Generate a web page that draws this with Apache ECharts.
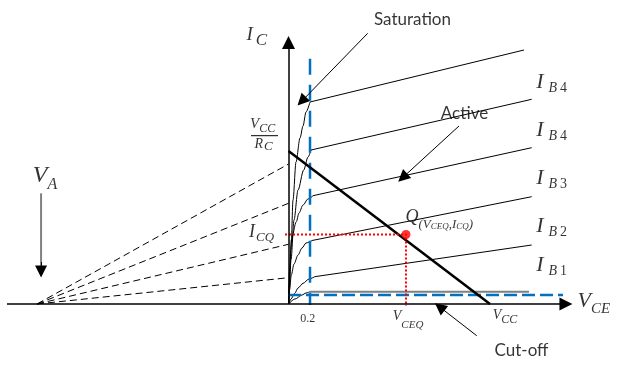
<!DOCTYPE html>
<html><head><meta charset="utf-8">
<script src="https://cdn.jsdelivr.net/npm/echarts@6/dist/echarts.min.js"></script>
<style>html,body{margin:0;padding:0;background:#fff}#c{width:627px;height:366px}</style>
</head><body><div id="c"></div>
<script>
// V_CE (volts) , I_C (mA)
const curveTop = [[0,0],[0.0093,1.2],[0.0233,2.7],[0.0419,5.2],[0.0698,7.1],[0.107,8.3],[0.1349,8.9],[0.1628,9.6],[0.2,10.1],[2.1907,12.7]];
const curveIB4 = [[0,0],[0.0047,0.45],[0.0233,2.2],[0.0512,4.2],[0.0884,5.7],[0.1414,6.7],[0.1814,7.35],[0.2093,7.7],[2.2623,10.235]];
const curveIB3 = [[0,0],[0.0093,1.7],[0.026,3.2],[0.0726,4.115],[0.0977,4.55],[0.1349,4.95],[0.1814,5.25],[0.2279,5.415],[2.2623,7.815]];
const curveIB2 = [[0,0],[0.0093,0.7],[0.026,1.45],[0.0512,2.0],[0.0884,2.45],[0.1256,2.8],[0.1628,3.05],[0.2186,3.175],[2.2623,5.365]];
const curveIB1 = [[0,0],[0.0233,0.25],[0.0577,0.535],[0.0884,0.8],[0.1349,1.035],[0.1907,1.25],[0.2437,1.365],[2.2623,2.95]];
const curveIB0knee = [[0,0],[0.0605,0.25],[0.1256,0.45],[0.1628,0.55],[0.2,0.615]];
const curveIB0flat = [[0.2,0.615],[2.2372,0.615]];
const VA = -2.3395;                       // Early voltage (convergence point)
const earlyIntercepts = [7.0, 5.035, 2.985, 1.315];
const VCC = 1.874, ICSAT = 7.65;          // load line intercepts
const VCEQ = 1.093, ICQ = 3.475;          // Q point
const VSAT = 0.2, VSAT_TOP = 12.265;      // saturation boundary
const ICUT = 0.45, VCUT_END = 2.5535;     // cut-off boundary
const xAxisLine = [[-2.619,0],[2.581,0]];
const yAxisLine = [[0,0],[0,13.075]];
const annotationArrows = [
  [[0.7367,13.535],[0.1228,10.14]],   // Saturation
  [[1.586,8.9],[1.062,6.32]],         // Active
  [[1.751,-1.585],[1.4065,-0.15]],    // Cut-off
  [[-2.302,2.1],[-2.302,1.625]]       // V_A head
];
const vaShaft = [[-2.302,5.535],[-2.302,1.8]];
const fractionBar = [[-0.3488,8.415],[-0.0977,8.415]];
const labels = [
  {t:'{ic|I}{icS|C}', p:[-0.386,13.425], a:'left'},
  {t:'{vcc|V}{vccS|CC}', p:[-0.3535,8.95], a:'left'},
  {t:'{rc|R}{rcS|C}', p:[-0.3116,7.975], a:'left'},
  {t:'{icq|I}{icqS|CQ}', p:[-0.3628,3.575], a:'left'},
  {t:'{q|Q}{qp|(V}{qs|CEQ}{qp|,I}{qs|CQ}{qp|)}', p:[1.093,4.325], a:'left'},
  {t:'{vce|V}{vceS|CE}', p:[2.693,0.1], a:'left'},
  {t:'{num|0.2}', p:[0.1842,-0.75], a:'center'},
  {t:'{vq|V}{vqS|CEQ}', p:[0.975,-0.66], a:'left'},
  {t:'{vb|V}{vbS|CC}', p:[1.905,-0.615], a:'left'},
  {t:'{va|V}{vaS|A}', p:[-2.374,6.4], a:'left'},
  {t:'{ib|I}{ibS|B}{ibN|4}', p:[2.309,11.075], a:'left'},
  {t:'{ib|I}{ibS|B}{ibN|4}', p:[2.309,8.65], a:'left'},
  {t:'{ib|I}{ibS|B}{ibN|3}', p:[2.309,6.25], a:'left'},
  {t:'{ib|I}{ibS|B}{ibN|2}', p:[2.309,3.85], a:'left'},
  {t:'{ib|I}{ibS|B}{ibN|1}', p:[2.309,1.9], a:'left'},
  {t:'{txt|Saturation}', p:[1.158,14.2], a:'center'},
  {t:'{txt|Active}', p:[1.642,9.485], a:'center'},
  {t:'{txt|Cut-off}', p:[2.172,-2.35], a:'center'}
];

const SERIF = "'Liberation Serif','Times New Roman',serif";
function it(size, lh, extra){ return Object.assign({fontFamily:SERIF, fontStyle:'italic', fontSize:size, lineHeight:lh, color:'#000'}, extra||{}); }
function sub(size, lh, extra){ return Object.assign({fontFamily:SERIF, fontStyle:'italic', fontSize:size, lineHeight:lh, verticalAlign:'bottom', color:'#000'}, extra||{}); }
const rich = {
  ic: it(19,29), icS: sub(17,17,{padding:[0,0,0,3]}),
  vcc: it(15,20), vccS: sub(12,12),
  rc: it(14,19), rcS: sub(13,13,{padding:[0,0,0,1]}),
  icq: it(18,25), icqS: sub(13,13,{padding:[0,0,0,1]}),
  q: it(18,28), qp: sub(13,14), qs: sub(9,9),
  vce: it(22,31), vceS: sub(15,15),
  num: {fontFamily:SERIF, fontSize:12, color:'#000'},
  vq: it(14,27), vqS: sub(11,11),
  vb: it(14,21), vbS: sub(12,12),
  va: it(24,34), vaS: sub(16,16),
  ib: it(22,26), ibS: sub(14,14,{padding:[0,0,0,5]}), ibN: sub(14,14,{fontStyle:'normal', padding:[0,0,0,3]}),
  txt: {fontFamily:"Lato,'Liberation Sans',sans-serif", fontSize:17, color:'#000'}
};

function line(data, color, width, type, z, smooth){
  return {type:'line', data:data, symbol:'none', showSymbol:false, silent:true, z:z||2,
    smooth: smooth||false, smoothMonotone: smooth ? 'x' : undefined,
    lineStyle:{color:color, width:width, type:type||'solid'}};
}
function arrows(list, color, width, size, z){
  return {type:'lines', coordinateSystem:'cartesian2d', symbol:['none','triangle'], symbolSize:size, silent:true, z:z||5,
    lineStyle:{color:color, width:width, opacity:1, curveness:0}, data:list.map(c=>({coords:c}))};
}

const series = [];
[curveTop, curveIB4, curveIB3, curveIB2, curveIB1].forEach(c=>{
  series.push(line(c.slice(0, c.length-1),'#000',1,'solid',2,0.3));   // knee region
  series.push(line(c.slice(c.length-2),'#000',1,'solid',2));           // active region
});
series.push(line(curveIB0knee,'#000',1,'solid',2,0.3));
series.push(line(curveIB0flat,'#7f7f7f',2,'solid',2));
earlyIntercepts.forEach(v=>series.push(line([[VA,0],[0,v]],'#000',1,[7,4],2)));
series.push(line([[0,ICSAT],[VCC,0]],'#000',2.5,'solid',4));
series.push(line([[VSAT,VSAT_TOP],[VSAT,-0.05]],'#0070C0',2.5,[16,10],3));
series.push(line([[-0.0047,ICUT],[VCUT_END,ICUT]],'#0070C0',2.5,[13,5],3));
series.push(line([[-0.0326,ICQ],[VCEQ,ICQ],[VCEQ,-0.1]],'#FF0000',2,[2,2],5));
series.push(line(fractionBar,'#000',1,'solid',5));
series.push(line(vaShaft,'#808080',2,'solid',5));
series.push(arrows([xAxisLine, yAxisLine],'#000',1.5,13,6));
series.push(arrows(annotationArrows,'#000',1,12,6));
series.push({type:'scatter', data:[[VCEQ,ICQ]], symbolSize:9, itemStyle:{color:'#FF0000'}, z:7, silent:true});
series.push({type:'scatter', symbolSize:1, itemStyle:{color:'rgba(0,0,0,0)'}, z:8, silent:true,
  data: labels.map(l=>({value:l.p, label:{show:true, position:[0,0], formatter:l.t, align:l.a, verticalAlign:'middle', rich:rich}}))});

const chart = echarts.init(document.getElementById('c'));
chart.setOption({
  animation:false,
  grid:{left:0,right:0,top:0,bottom:0},
  xAxis:{type:'value', min:-2.684, max:3.149, show:false},
  yAxis:{type:'value', min:-3.1, max:15.2, show:false},
  series:series
});
</script></body></html>
